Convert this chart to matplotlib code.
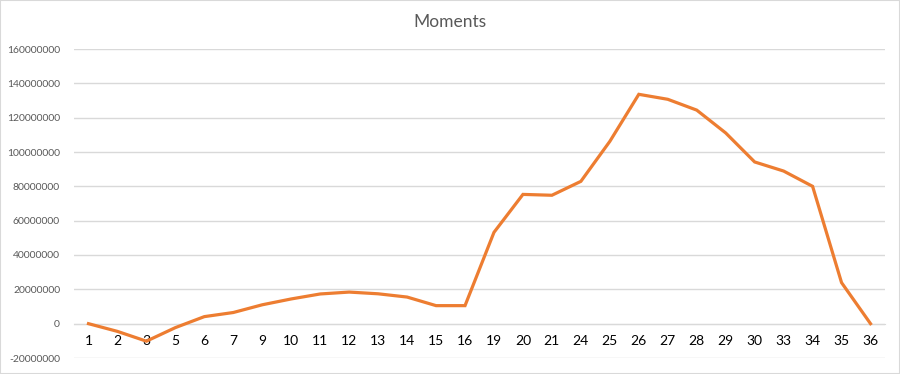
import matplotlib
matplotlib.use('Agg')
import matplotlib.pyplot as plt
from matplotlib.patches import Rectangle

# categories (x labels) and moment values
cats = ['1', '2', '3', '5', '6', '7', '9', '10', '11', '12', '13', '14', '15', '16',
        '19', '20', '21', '24', '25', '26', '27', '28', '29', '30', '33', '34', '35', '36']
moments = [0, -4.5e6, -10.2e6, -2.3e6, 4.1e6, 6.5e6, 11.0e6, 14.4e6, 17.3e6, 18.4e6,
           17.4e6, 15.5e6, 10.5e6, 10.5e6, 53.2e6, 75.3e6, 74.8e6, 82.9e6, 106.2e6,
           133.6e6, 130.7e6, 124.4e6, 111.1e6, 94.2e6, 88.9e6, 80.0e6, 23.9e6, 0]
yticks = list(range(-20000000, 160000001, 20000000))

plt.rcParams['font.family'] = ['Lato', 'DejaVu Sans']
txtcol = '#595959'
gridcol = '#d9d9d9'

fig = plt.figure(figsize=(9, 3.74), dpi=100)
fig.patches.append(Rectangle((0, 0), 1, 1, transform=fig.transFigure, fill=False,
                             edgecolor=gridcol, lw=1.5, zorder=0))
ax = fig.add_axes([74/900, 16/374, (885-74)/900, (358-49)/374])

x = range(len(cats))
ax.plot(x, moments, color='#ED7D31', lw=2.3, solid_joinstyle='miter', zorder=3)

ax.set_xlim(-0.5, len(cats) - 0.5)
ax.set_ylim(-20000000, 160000000)
ax.set_yticks(yticks)
ax.set_yticklabels([str(v) for v in yticks], color=txtcol, fontsize=7.5)
ax.yaxis.grid(True, color=gridcol, lw=1)
ax.set_axisbelow(True)
ax.tick_params(axis='y', length=0, pad=10)

# category axis sits on the zero line
ax.set_xticks(list(x))
ax.set_xticklabels(cats, color=txtcol, fontsize=7.8)
ax.tick_params(axis='x', length=0, pad=8)
ax.spines['bottom'].set_position(('data', 0))
ax.spines['bottom'].set_color(gridcol)
for s in ['top', 'right', 'left']:
    ax.spines[s].set_visible(False)

fig.text(0.5, 1 - 22/374, 'Moments', ha='center', va='center', color=txtcol, fontsize=12.5)

fig.savefig('out.png', dpi=100)
